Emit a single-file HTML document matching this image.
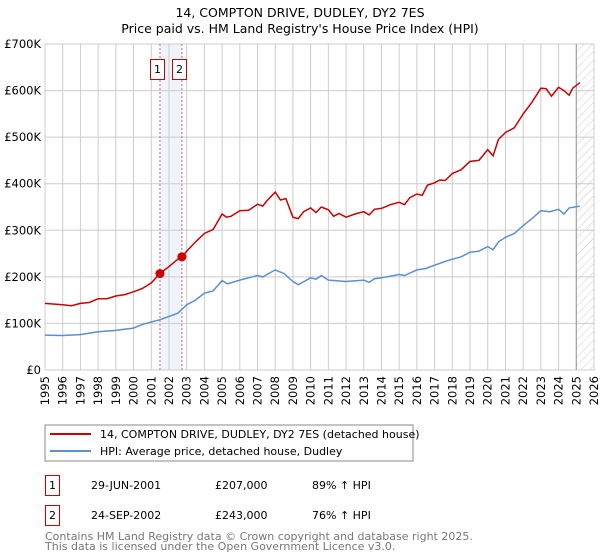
<!DOCTYPE html>
<html><head><meta charset="utf-8"><style>
body{margin:0;background:#fff;}
svg{display:block;font-family:"DejaVu Sans","Liberation Sans",sans-serif;}
</style></head><body>
<svg id="chart" width="600" height="560" xmlns="http://www.w3.org/2000/svg">
<defs>
<pattern id="hatch" width="6" height="6" patternUnits="userSpaceOnUse" patternTransform="rotate(45)">
<line x1="0" y1="0" x2="0" y2="6" stroke="#ccc" stroke-width="1"/>
</pattern>
</defs>
<text x="300" y="17" text-anchor="middle" font-size="12.5" fill="#000">14, COMPTON DRIVE, DUDLEY, DY2 7ES</text>
<text x="300" y="33" text-anchor="middle" font-size="12.5" fill="#000">Price paid vs. HM Land Registry's House Price Index (HPI)</text>
<g id="grid"></g>
<g id="marks"></g>
<g id="legend">
<rect x="45" y="425" width="368" height="36" fill="#fff" stroke="#888"/>
<line x1="50" y1="434" x2="91" y2="434" stroke="#cc0000" stroke-width="2"/>
<text x="100" y="438" font-size="11">14, COMPTON DRIVE, DUDLEY, DY2 7ES (detached house)</text>
<line x1="50" y1="451" x2="91" y2="451" stroke="#5b8fd4" stroke-width="2"/>
<text x="100" y="455" font-size="11">HPI: Average price, detached house, Dudley</text>
</g>
<g font-size="11">
<rect x="45.5" y="475.5" width="14" height="20" fill="#fff" stroke="#cc0000"/>
<text x="52.5" y="489" text-anchor="middle">1</text>
<text x="91" y="489">29-JUN-2001</text>
<text x="215" y="489">£207,000</text>
<text x="312" y="489">89% ↑ HPI</text>
<rect x="45.5" y="505.5" width="14" height="20" fill="#fff" stroke="#cc0000"/>
<text x="52.5" y="519" text-anchor="middle">2</text>
<text x="91" y="519">24-SEP-2002</text>
<text x="215" y="519">£243,000</text>
<text x="312" y="519">76% ↑ HPI</text>
</g>
<text x="45" y="540" font-size="11" fill="#777">Contains HM Land Registry data © Crown copyright and database right 2025.</text>
<text x="45" y="550" font-size="11" fill="#777">This data is licensed under the Open Government Licence v3.0.</text>
</svg>
<script>
const yTicks = [0,100,200,300,400,500,600,700];
const yTickLabels = ["£0","£100K","£200K","£300K","£400K","£500K","£600K","£700K"];
const xYears = [1995,1996,1997,1998,1999,2000,2001,2002,2003,2004,2005,2006,2007,2008,2009,2010,2011,2012,2013,2014,2015,2016,2017,2018,2019,2020,2021,2022,2023,2024,2025,2026];
const redT = [1995,1996,1996.5,1997,1997.5,1998,1998.5,1999,1999.5,2000,2000.5,2001,2001.49,2002,2002.5,2002.73,2003,2003.5,2004,2004.5,2005,2005.25,2005.5,2006,2006.5,2007,2007.3,2007.5,2008,2008.3,2008.6,2009,2009.3,2009.6,2010,2010.3,2010.6,2011,2011.3,2011.6,2012,2012.5,2013,2013.3,2013.6,2014,2014.5,2015,2015.3,2015.6,2016,2016.3,2016.6,2017,2017.3,2017.6,2018,2018.5,2019,2019.5,2020,2020.3,2020.6,2021,2021.5,2022,2022.5,2023,2023.3,2023.6,2024,2024.3,2024.6,2024.8,2025.2];
const redV = [143,140,138,143,145,153,153,159,162,168,175,187,207,222,238,243,255,275,293,302,335,328,330,342,343,356,352,362,382,365,368,328,325,340,348,338,350,344,330,336,328,335,340,333,345,347,355,360,355,370,378,375,397,402,408,407,422,430,448,450,473,460,495,510,520,550,575,605,604,588,607,600,590,605,617];
const blueT = [1995,1996,1997,1998,1999,2000,2000.5,2001,2001.5,2002,2002.5,2003,2003.5,2004,2004.5,2005,2005.3,2006,2007,2007.3,2008,2008.5,2009,2009.3,2010,2010.3,2010.6,2011,2012,2013,2013.3,2013.6,2014,2015,2015.3,2016,2016.5,2017,2017.5,2018,2018.5,2019,2019.5,2020,2020.3,2020.6,2021,2021.5,2022,2022.5,2023,2023.5,2024,2024.3,2024.6,2025.2];
const blueV = [75,74,76,82,85,90,98,103,108,115,122,140,150,165,170,192,185,193,203,200,215,207,190,183,198,195,203,193,190,193,188,196,198,205,203,215,218,225,232,238,243,253,255,265,258,275,285,293,310,325,342,340,345,335,348,352];
const saleT = [2001.49, 2002.73];
const saleV = [207, 243];
const saleLabels = ["1","2"];

const X0=45, X1=594, Y0=370, Y1=44;
const x = t => X0 + (t-1995)/(2026-1995)*(X1-X0);
const y = v => Y0 - v/700*(Y0-Y1);
const NS="http://www.w3.org/2000/svg";
const grid=document.getElementById('grid'), marks=document.getElementById('marks');
function mk(tag, attrs, parent){const e=document.createElementNS(NS,tag);for(const k in attrs)e.setAttribute(k,attrs[k]);parent.appendChild(e);return e;}

let band=mk('rect',{x:x(saleT[0]),y:Y1,width:x(saleT[1])-x(saleT[0]),height:Y0-Y1,fill:'#eef3fc'},grid);


let hatch=mk('rect',{x:x(2025.0),y:Y1,width:X1-x(2025.0),height:Y0-Y1,fill:'url(#hatch)'},grid);



xYears.forEach((yr,i)=>{
  const gx=x(yr);
  let l=mk('line',{x1:gx,y1:Y1,x2:gx,y2:Y0,stroke:'#ccc','stroke-width':1},grid);
  
  
  let t=mk('text',{x:0,y:0,'font-size':11.5,'text-anchor':'end',transform:`translate(${gx+4},${Y0+6}) rotate(-90)`},grid);
  t.textContent=yr;
  
  
});
yTicks.forEach((v,i)=>{
  const gy=y(v);
  let l=mk('line',{x1:X0,y1:gy,x2:X1,y2:gy,stroke:'#ccc','stroke-width':1},grid);
  
  
  let t=mk('text',{x:X0-4,y:gy+4,'font-size':11.5,'text-anchor':'end'},grid);
  t.textContent=yTickLabels[i];
  
  
});
let nowLine=mk('line',{x1:x(2025.0),y1:Y1,x2:x(2025.0),y2:Y0,stroke:'#999','stroke-width':1},grid);



saleT.forEach((t,i)=>{
  let l=mk('line',{x1:x(t),y1:Y1,x2:x(t),y2:Y0,stroke:'#e06666','stroke-width':1,'stroke-dasharray':'2,2'},grid);
  
  
  const bx=Math.round(x(t))-10;
  let r=mk('rect',{x:bx+0.5,y:59.5,width:14,height:20,fill:'#fff',stroke:'#cc0000'},grid);
  
  
  let tx=mk('text',{x:bx+7.5,y:73,'font-size':11,'text-anchor':'middle'},grid);
  tx.textContent=saleLabels[i];
  
  
});

function path(T,V){return T.map((t,i)=>(i?'L':'M')+x(t).toFixed(1)+','+y(V[i]).toFixed(1)).join('');}
let bl=mk('path',{d:path(blueT,blueV),fill:'none',stroke:'#5b8fd4','stroke-width':1.5},marks);


let rl=mk('path',{d:path(redT,redV),fill:'none',stroke:'#cc0000','stroke-width':1.5},marks);


saleT.forEach((t,i)=>{
  let c=mk('circle',{cx:x(t),cy:y(saleV[i]),r:4.5,fill:'#cc0000'},marks);
  
  
});
</script>
</body></html>
